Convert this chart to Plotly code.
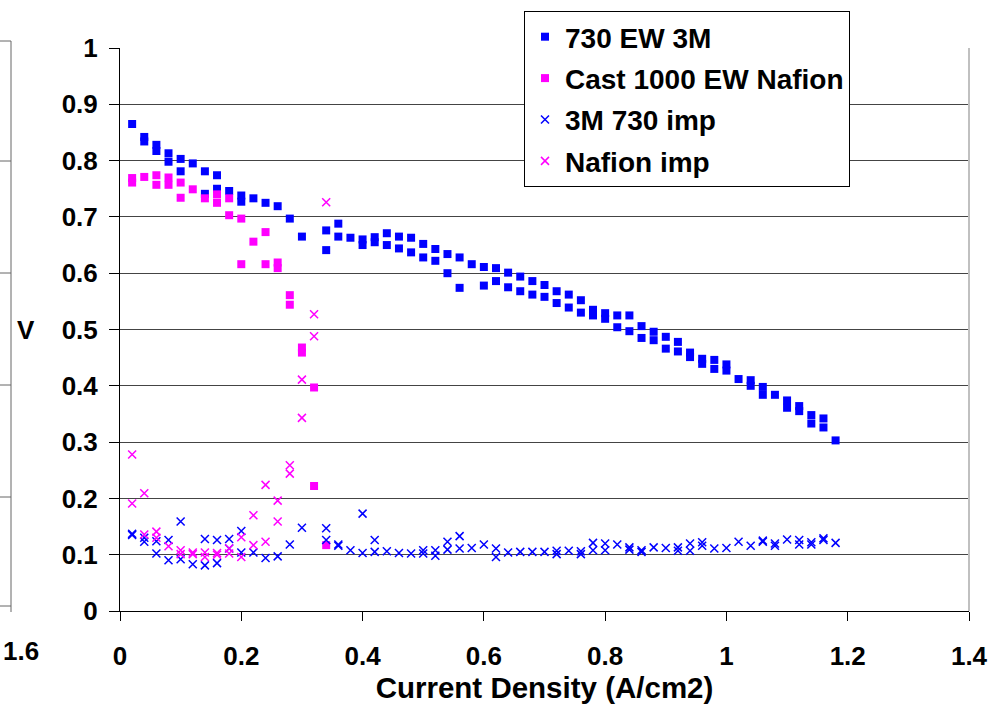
import plotly.graph_objects as go

# ---- data ----
ew730_x = [0.02, 0.04, 0.04, 0.06, 0.06, 0.08, 0.08, 0.10, 0.10, 0.12, 0.14, 0.14, 0.16, 0.16, 0.18,
           0.20, 0.20, 0.22, 0.24, 0.26, 0.28, 0.30, 0.34, 0.34, 0.36, 0.36, 0.38, 0.40, 0.40, 0.42, 0.42,
           0.44, 0.44, 0.46, 0.46, 0.48, 0.48, 0.50, 0.50, 0.52, 0.52, 0.54, 0.54, 0.56, 0.56, 0.58,
           0.60, 0.60, 0.62, 0.62, 0.64, 0.64, 0.66, 0.66, 0.68, 0.68, 0.70, 0.70, 0.72, 0.72, 0.74, 0.74,
           0.76, 0.76, 0.78, 0.78, 0.80, 0.80, 0.82, 0.82, 0.84, 0.84, 0.86, 0.86, 0.88, 0.88, 0.90, 0.90,
           0.92, 0.92, 0.94, 0.94, 0.96, 0.96, 0.98, 0.98, 1.00, 1.00, 1.02, 1.04, 1.04, 1.06, 1.06, 1.08,
           1.10, 1.10, 1.12, 1.12, 1.14, 1.14, 1.16, 1.16, 1.18]
ew730_v = [0.865, 0.842, 0.834, 0.828, 0.817, 0.813, 0.798, 0.803, 0.781, 0.795, 0.781, 0.741, 0.774, 0.750, 0.746,
           0.738, 0.727, 0.733, 0.725, 0.719, 0.697, 0.665, 0.676, 0.641, 0.688, 0.665, 0.663, 0.660, 0.650, 0.664, 0.655,
           0.671, 0.650, 0.665, 0.644, 0.663, 0.637, 0.652, 0.628, 0.643, 0.622, 0.634, 0.600, 0.628, 0.574, 0.616,
           0.611, 0.578, 0.609, 0.586, 0.601, 0.575, 0.594, 0.568, 0.586, 0.562, 0.579, 0.558, 0.568, 0.547, 0.562, 0.539,
           0.552, 0.530, 0.535, 0.525, 0.529, 0.519, 0.525, 0.504, 0.525, 0.497, 0.506, 0.485, 0.496, 0.481, 0.487, 0.466,
           0.478, 0.461, 0.459, 0.451, 0.448, 0.439, 0.446, 0.430, 0.438, 0.427, 0.412, 0.410, 0.400, 0.398, 0.384, 0.384,
           0.374, 0.361, 0.364, 0.355, 0.348, 0.333, 0.342, 0.326, 0.303]

nafion_x = [0.02, 0.02, 0.04, 0.06, 0.06, 0.08, 0.08, 0.10, 0.10, 0.12, 0.14, 0.16, 0.16, 0.18, 0.18,
            0.20, 0.20, 0.22, 0.24, 0.24, 0.26, 0.26, 0.28, 0.28, 0.30, 0.30, 0.32, 0.32, 0.34]
nafion_v = [0.769, 0.761, 0.771, 0.774, 0.757, 0.770, 0.757, 0.761, 0.734, 0.749, 0.733, 0.740, 0.725, 0.733, 0.703,
            0.697, 0.616, 0.656, 0.673, 0.616, 0.619, 0.609, 0.561, 0.544, 0.468, 0.459, 0.397, 0.222, 0.117]

imp730_x = [0.02, 0.02, 0.04, 0.04, 0.06, 0.06, 0.08, 0.08, 0.10, 0.10, 0.12, 0.14, 0.14, 0.16, 0.16, 0.18, 0.18,
            0.20, 0.20, 0.22, 0.24, 0.26, 0.28, 0.30, 0.34, 0.34, 0.36, 0.36, 0.38, 0.40, 0.40, 0.42, 0.42,
            0.44, 0.46, 0.48, 0.50, 0.50, 0.52, 0.52, 0.54, 0.54, 0.56, 0.56, 0.58, 0.60, 0.62, 0.62, 0.64,
            0.66, 0.68, 0.70, 0.72, 0.72, 0.74, 0.76, 0.76, 0.78, 0.78, 0.80, 0.80, 0.82, 0.84, 0.84, 0.86, 0.86,
            0.88, 0.90, 0.92, 0.92, 0.94, 0.94, 0.96, 0.96, 0.98, 1.00, 1.02, 1.04, 1.06, 1.06, 1.08, 1.08,
            1.10, 1.12, 1.12, 1.14, 1.14, 1.16, 1.16, 1.18]
imp730_v = [0.137, 0.135, 0.130, 0.123, 0.124, 0.102, 0.126, 0.090, 0.159, 0.092, 0.083, 0.128, 0.081, 0.126, 0.085, 0.128, 0.111,
            0.142, 0.104, 0.104, 0.094, 0.097, 0.118, 0.148, 0.147, 0.126, 0.118, 0.116, 0.108, 0.173, 0.103, 0.126, 0.105,
            0.106, 0.103, 0.102, 0.108, 0.102, 0.108, 0.098, 0.123, 0.109, 0.133, 0.111, 0.112, 0.118, 0.111, 0.096, 0.104,
            0.105, 0.105, 0.105, 0.107, 0.101, 0.107, 0.106, 0.101, 0.121, 0.108, 0.120, 0.108, 0.118, 0.113, 0.109, 0.108, 0.105,
            0.113, 0.112, 0.113, 0.107, 0.120, 0.107, 0.122, 0.116, 0.111, 0.112, 0.123, 0.116, 0.125, 0.123, 0.120, 0.116,
            0.127, 0.126, 0.118, 0.122, 0.118, 0.129, 0.126, 0.121]

impnaf_x = [0.02, 0.02, 0.04, 0.04, 0.06, 0.06, 0.08, 0.10, 0.10, 0.12, 0.12, 0.14, 0.14, 0.16, 0.16, 0.18, 0.18,
            0.20, 0.20, 0.22, 0.22, 0.24, 0.24, 0.26, 0.26, 0.28, 0.28, 0.30, 0.30, 0.32, 0.32, 0.34]
impnaf_v = [0.278, 0.191, 0.209, 0.136, 0.141, 0.130, 0.115, 0.108, 0.101, 0.104, 0.101, 0.104, 0.096, 0.103, 0.100, 0.111, 0.102,
            0.131, 0.096, 0.170, 0.117, 0.224, 0.123, 0.196, 0.159, 0.259, 0.244, 0.411, 0.343, 0.527, 0.488, 0.726]

x_ticks = [0, 0.2, 0.4, 0.6, 0.8, 1.0, 1.2, 1.4]
x_tick_text = ["0", "0.2", "0.4", "0.6", "0.8", "1", "1.2", "1.4"]
y_ticks = [0, 0.1, 0.2, 0.3, 0.4, 0.5, 0.6, 0.7, 0.8, 0.9, 1.0]
y_tick_text = ["0", "0.1", "0.2", "0.3", "0.4", "0.5", "0.6", "0.7", "0.8", "0.9", "1"]

BLUE = "#0000FF"
MAG = "#FF00FF"
FONT = "Liberation Sans, Arial, sans-serif"

# plot-area geometry in pixels (for the decorative fragment of the neighbouring chart)
L, R, T, B = 120, 23, 48, 93
W, H = 992, 704
PW, PH = W - L - R, H - T - B


def px_x(px):
    return (px - L) / PW


def px_y(py):
    return (H - B - py) / PH


fig = go.Figure()
fig.add_trace(go.Scatter(x=ew730_x, y=ew730_v, mode="markers", name="730 EW 3M", legendgroup="a",
                         marker=dict(symbol="square", size=8, color=BLUE)))
fig.add_trace(go.Scatter(x=nafion_x, y=nafion_v, mode="markers", name="Cast 1000 EW Nafion", legendgroup="b",
                         marker=dict(symbol="square", size=8, color=MAG)))
fig.add_trace(go.Scatter(x=imp730_x, y=imp730_v, mode="markers", name="3M 730 imp", legendgroup="c",
                         marker=dict(symbol="x-thin", size=8, color=BLUE, line=dict(width=1.5, color=BLUE))))
fig.add_trace(go.Scatter(x=impnaf_x, y=impnaf_v, mode="markers", name="Nafion imp", legendgroup="d",
                         marker=dict(symbol="x-thin", size=8, color=MAG, line=dict(width=1.5, color=MAG))))

fig.update_layout(
    width=W, height=H,
    margin=dict(l=L, r=R, t=T, b=B, autoexpand=False),
    paper_bgcolor="white", plot_bgcolor="white",
    font=dict(family=FONT, color="black"),
    showlegend=True,
    legend=dict(x=px_x(524), y=px_y(11), xanchor="left", yanchor="top",
                bgcolor="white", bordercolor="black", borderwidth=1,
                font=dict(family=FONT, size=28, weight="bold"),
                tracegroupgap=2, itemsizing="trace"),
    xaxis=dict(range=[0, 1.4], tickvals=x_ticks, ticktext=x_tick_text, showgrid=False, zeroline=False,
               automargin=False,
               showline=True, linecolor="black", linewidth=1, ticks="outside", ticklen=9, tickcolor="black",
               ticklabelstandoff=13,
               tickfont=dict(family=FONT, size=26, weight="bold"),
               title=dict(text="Current Density (A/cm2)", standoff=10,
                          font=dict(family=FONT, size=29.5, weight="bold"))),
    yaxis=dict(range=[0, 1], tickvals=y_ticks, ticktext=y_tick_text, showgrid=True, gridcolor="#444444",
               gridwidth=1, zeroline=False, showline=True, linecolor="black", linewidth=1,
               automargin=False,
               ticks="outside", ticklen=10, tickcolor="black", ticklabelstandoff=6,
               tickfont=dict(family=FONT, size=26, weight="bold")),
)

# y-axis label "V" (horizontal)
fig.add_annotation(x=px_x(26), y=0.5, xref="paper", yref="paper", text="V", showarrow=False,
                   font=dict(family=FONT, size=26, weight="bold"), xanchor="center", yanchor="middle")

# right plot border
fig.add_shape(type="line", xref="paper", yref="paper", x0=1, x1=1, y0=0, y1=1,
              line=dict(color="#c0c0c0", width=2))

# fragment of the neighbouring chart at the far left
frag_x = px_x(11)
for py in [41, 161, 273, 385, 497, 606]:
    fig.add_shape(type="line", xref="paper", yref="paper", x0=px_x(0), x1=frag_x,
                  y0=px_y(py), y1=px_y(py), line=dict(color="#666666", width=1))
fig.add_shape(type="line", xref="paper", yref="paper", x0=frag_x, x1=frag_x,
              y0=px_y(41), y1=px_y(612), line=dict(color="#666666", width=1))
fig.add_annotation(x=px_x(1), y=px_y(651), xref="paper", yref="paper",
                   text="1.6", showarrow=False, xanchor="left", yanchor="middle",
                   font=dict(family=FONT, size=26, weight="bold"))

fig.write_html("out.html")
